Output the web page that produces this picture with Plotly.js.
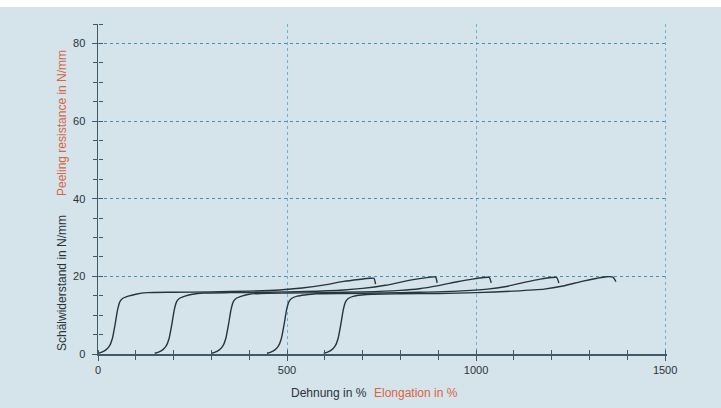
<!DOCTYPE html>
<html>
<head>
<meta charset="utf-8">
<script src="https://cdn.plot.ly/plotly-3.0.1.min.js"></script>
<style>
  html, body { margin: 0; padding: 0; background: #ffffff; }
  #chart { position: absolute; left: 0; top: 7px; width: 721px; height: 401px; }
</style>
</head>
<body>
<div id="chart"></div>
<script>
// ---- data ----
const x1 = [0, 10, 20, 30, 38, 45, 52, 58, 65, 80, 100, 130, 200, 300, 400, 480, 540, 600, 650, 690, 720, 730, 734];
const y1 = [0.2, 0.5, 1.0, 2.0, 4.0, 7.5, 11.5, 13.5, 14.3, 14.9, 15.4, 15.8, 15.9, 16.0, 16.2, 16.5, 17.0, 17.8, 18.7, 19.2, 19.5, 19.5, 18.0];

const x2 = [150, 160, 170, 180, 188, 195, 202, 208, 215, 230, 250, 280, 350, 450, 550, 650, 700, 760, 810, 850, 880, 893, 897];
const y2 = [0.2, 0.5, 1.0, 2.0, 4.0, 7.5, 11.5, 13.5, 14.3, 14.9, 15.4, 15.7, 15.8, 15.9, 16.1, 16.5, 16.9, 17.7, 18.7, 19.4, 19.8, 19.8, 18.3];

const x3 = [300, 310, 320, 330, 338, 345, 352, 358, 365, 380, 400, 430, 500, 600, 700, 800, 850, 900, 950, 990, 1020, 1035, 1040];
const y3 = [0.2, 0.5, 1.0, 2.0, 4.0, 7.5, 11.5, 13.5, 14.3, 14.9, 15.4, 15.6, 15.7, 15.8, 16.0, 16.4, 16.8, 17.6, 18.6, 19.3, 19.7, 19.7, 18.3];

const x4 = [447, 457, 467, 477, 485, 492, 499, 505, 512, 527, 547, 577, 650, 750, 850, 950, 1030, 1080, 1130, 1170, 1200, 1213, 1219];
const y4 = [0.2, 0.5, 1.0, 2.0, 4.0, 7.5, 11.5, 13.5, 14.3, 14.9, 15.2, 15.5, 15.6, 15.7, 15.9, 16.2, 16.7, 17.4, 18.5, 19.3, 19.7, 19.7, 18.3];

const x5 = [597, 607, 617, 627, 635, 642, 649, 655, 662, 677, 697, 727, 800, 900, 1000, 1100, 1180, 1230, 1280, 1320, 1345, 1362, 1370];
const y5 = [0.2, 0.5, 1.0, 2.0, 4.0, 7.5, 11.5, 13.5, 14.3, 14.9, 15.2, 15.4, 15.5, 15.6, 15.8, 16.2, 16.7, 17.5, 18.7, 19.5, 19.9, 19.8, 18.6];

const xTickVals = [0, 500, 1000, 1500];
const xTickText = ["0", "500", "1000", "1500"];
const yTickVals = [0, 20, 40, 60, 80];
const yTickText = ["0", "20", "40", "60", "80"];

const yTitleDe = "Schälwiderstand in N/mm";
const yTitleEn = "Peeling resistance in N/mm";
const xTitleDe = "Dehnung in %";
const xTitleEn = "Elongation in %";

// ---- styling ----
const BG = "#d5e3eb";
const CURVE = "#25353d";
const AXIS = "#3f5b6a";
const ORANGE = "#d8653f";
const TXT = "#2b3338";
const FONT = "Liberation Sans, Arial, sans-serif";

const W = 721, H = 401;
const M = { l: 98, r: 54, t: 17, b: 54 };
const pw = W - M.l - M.r, ph = H - M.t - M.b;
const plotBottomPage = 7 + H - M.b;
// convert page pixel (in full 408-high page) to paper coordinates
function px(xp) { return (xp - M.l) / pw; }
function py(yp) { return (plotBottomPage - yp) / ph; }

const series = [[x1, y1], [x2, y2], [x3, y3], [x4, y4], [x5, y5]];
const traces = series.map(([xs, ys]) => ({
  x: xs, y: ys, type: "scatter", mode: "lines",
  line: { color: CURVE, width: 1.4, shape: "spline", smoothing: 0.6 },
  hoverinfo: "skip", showlegend: false
}));
// invisible trace on overlay axes (they carry the inner half of the crossing ticks)
traces.push({ x: [0], y: [0], xaxis: "x2", yaxis: "y2", mode: "markers",
  marker: { opacity: 0 }, showlegend: false, hoverinfo: "skip" });

const XR = [0, 1505];
const YR = [0, 85];

const layout = {
  width: W, height: H,
  margin: M,
  paper_bgcolor: BG, plot_bgcolor: BG,
  font: { family: FONT, size: 11, color: TXT },
  showlegend: false,
  xaxis: {
    range: XR, tickvals: xTickVals, ticktext: xTickText,
    showgrid: true, gridcolor: "#6cb0d6", griddash: "3px,3px", gridwidth: 1,
    showline: true, linecolor: AXIS, linewidth: 1.5,
    ticks: "outside", ticklen: 5, tickcolor: AXIS, tickwidth: 1,
    minor: { dtick: 100, tick0: 0, ticks: "outside", ticklen: 4, tickcolor: AXIS, showgrid: false },
    zeroline: false, tickfont: { size: 11, color: TXT }
  },
  xaxis2: {
    overlaying: "x", anchor: "free", position: 0, side: "top", range: XR,
    tick0: 0, dtick: 100, ticks: "outside", ticklen: 4, tickcolor: AXIS, tickwidth: 1,
    showticklabels: false, showgrid: false, showline: false, zeroline: false
  },
  yaxis: {
    range: YR, tickvals: yTickVals, ticktext: yTickText,
    showgrid: true, gridcolor: "#4a8eb5", griddash: "3px,3px", gridwidth: 1,
    showline: true, linecolor: AXIS, linewidth: 1.5,
    ticks: "outside", ticklen: 5, tickcolor: AXIS, tickwidth: 1,
    minor: { dtick: 5, tick0: 0, ticks: "outside", ticklen: 4, tickcolor: AXIS, showgrid: false },
    zeroline: false, ticklabelstandoff: 4, tickfont: { size: 11, color: TXT }
  },
  yaxis2: {
    overlaying: "y", anchor: "free", position: 0, side: "right", range: YR,
    tick0: 0, dtick: 5, ticks: "outside", ticklen: 4, tickcolor: AXIS, tickwidth: 1,
    showticklabels: false, showgrid: false, showline: false, zeroline: false
  },
  annotations: [
    { text: yTitleDe, xref: "paper", yref: "paper", x: px(62), y: py(283),
      textangle: -90, showarrow: false, font: { size: 12, color: TXT },
      xanchor: "center", yanchor: "middle" },
    { text: yTitleEn, xref: "paper", yref: "paper", x: px(62), y: py(123),
      textangle: -90, showarrow: false, font: { size: 12, color: ORANGE },
      xanchor: "center", yanchor: "middle" },
    { text: xTitleDe, xref: "paper", yref: "paper", x: px(329), y: py(393),
      showarrow: false, font: { size: 12, color: TXT },
      xanchor: "center", yanchor: "middle" },
    { text: xTitleEn, xref: "paper", yref: "paper", x: px(416), y: py(393),
      showarrow: false, font: { size: 12, color: ORANGE },
      xanchor: "center", yanchor: "middle" }
  ]
};

Plotly.newPlot("chart", traces, layout, { displayModeBar: false, staticPlot: true });
</script>
</body>
</html>
